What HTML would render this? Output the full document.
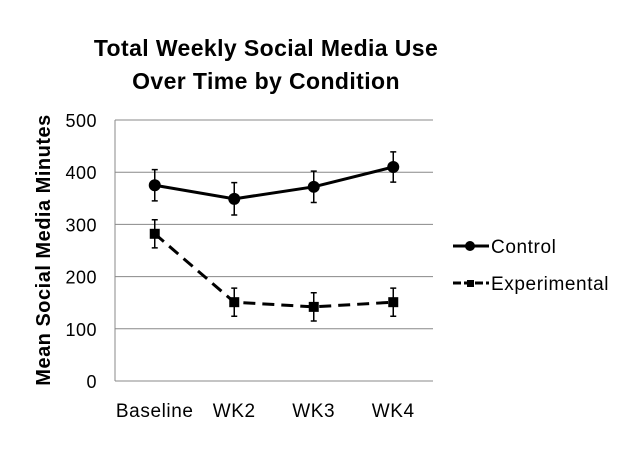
<!DOCTYPE html>
<html><head><meta charset="utf-8"><style>
body{margin:0;background:#fff;}
text{font-family:"Liberation Sans",Arial,sans-serif;}
</style></head><body>
<svg id="chart" width="640" height="446" xmlns="http://www.w3.org/2000/svg">
<text x="266" y="56" text-anchor="middle" font-size="23" font-weight="bold" letter-spacing="0.4">Total Weekly Social Media Use</text>
<text x="266" y="89" text-anchor="middle" font-size="23" font-weight="bold" letter-spacing="0.4">Over Time by Condition</text>
<text transform="translate(50,250) rotate(-90)" text-anchor="middle" font-size="20" font-weight="bold" letter-spacing="0.5">Mean Social Media Minutes</text>
<g id="grid"></g>
<g id="marks"></g>
<g>
<g><line x1="453" y1="246" x2="489" y2="246" stroke="#000" stroke-width="3"/><circle cx="470" cy="246" r="5" fill="#000"/><text x="491" y="253" font-size="19" letter-spacing="0.6">Control</text></g>
<g><line x1="453" y1="283" x2="489" y2="283" stroke="#000" stroke-width="3" stroke-dasharray="8,3"/><rect x="467" y="280" width="7" height="7" fill="#000"/><text x="491" y="290" font-size="19" letter-spacing="0.6">Experimental</text></g>
</g>
</svg>
<script>
const categories=["Baseline","WK2","WK3","WK4"];
const controlValues=[375,349,372,410];
const controlErrors=[30,31,30,29];
const experimentalValues=[282,151,142,151];
const experimentalErrors=[27,27,27,27];
const yTicks=[0,100,200,300,400,500];
const NS="http://www.w3.org/2000/svg";
const L=115,R=433,T=120,B=381,yMax=500;
const y=v=>B-(v/yMax)*(B-T);
const band=(R-L)/categories.length;
const x=i=>L+band*(i+0.5);
const grid=document.getElementById('grid'),marks=document.getElementById('marks');
function mk(tag,attrs,parent){const e=document.createElementNS(NS,tag);for(const k in attrs)e.setAttribute(k,attrs[k]);parent.appendChild(e);return e;}
yTicks.forEach(t=>{
  const g=mk('line',{x1:L,x2:R,y1:y(t),y2:y(t),stroke:'#888','stroke-width':1},grid);
  
  
  const tx=mk('text',{x:97,y:y(t)+7,'text-anchor':'end','font-size':18,'letter-spacing':0.5},grid);
  tx.textContent=t;
  
  
});
const ax=mk('line',{x1:L,x2:L,y1:T,y2:B,stroke:'#888','stroke-width':1},grid);


categories.forEach((c,i)=>{
  const tx=mk('text',{x:x(i),y:417,'text-anchor':'middle','font-size':19,'letter-spacing':0.6},grid);
  tx.textContent=c;
  
  
});
function series(vals,errs,dash,shape,name){
  const pts=vals.map((v,i)=>x(i)+','+y(v)).join(' ');
  const pl=mk('polyline',{points:pts,fill:'none',stroke:'#000','stroke-width':3,'stroke-dasharray':dash},marks);
  
  
  vals.forEach((v,i)=>{
    const cx=x(i),hi=y(v+errs[i]),lo=y(v-errs[i]);
    const eb=mk('path',{d:`M${cx},${hi}V${lo}M${cx-3},${hi}H${cx+3}M${cx-3},${lo}H${cx+3}`,stroke:'#000','stroke-width':1.5,fill:'none'},marks);
    
    
    let m;
    if(shape==='circle') m=mk('circle',{cx:cx,cy:y(v),r:6,fill:'#000'},marks);
    else m=mk('rect',{x:cx-5,y:y(v)-5,width:10,height:10,fill:'#000'},marks);
    
    
  });
}
series(controlValues,controlErrors,'none','circle','control');
series(experimentalValues,experimentalErrors,'12,7','square','experimental');
</script>
</body></html>
